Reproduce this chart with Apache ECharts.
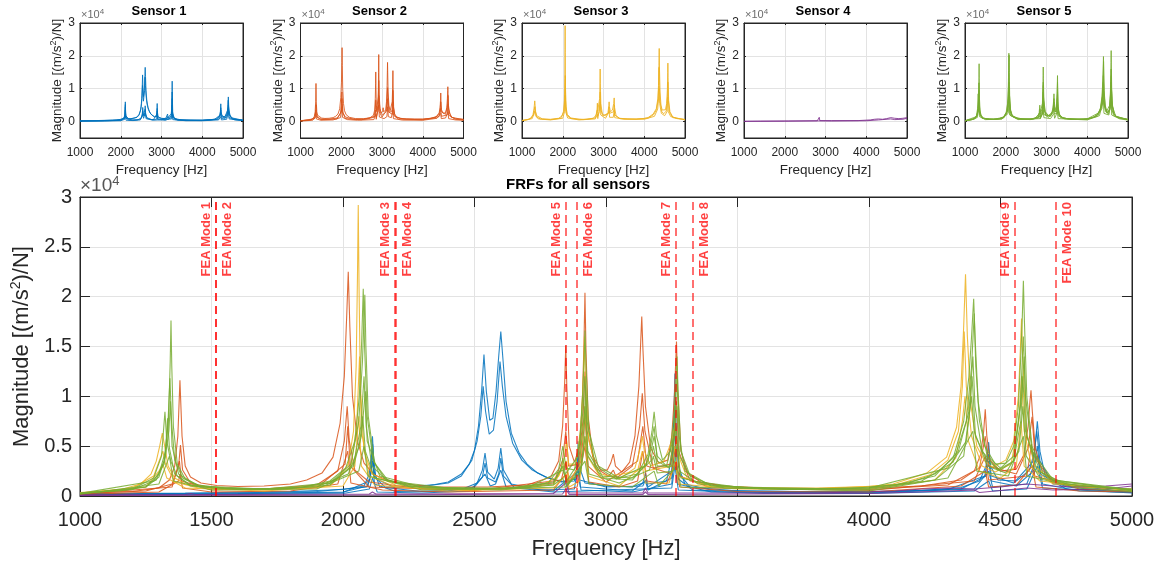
<!DOCTYPE html>
<html><head><meta charset="utf-8">
<script src="https://cdn.jsdelivr.net/npm/echarts@6/dist/echarts.min.js"></script>
<style>html,body{margin:0;padding:0;background:#fff}#c{width:1166px;height:568px}</style>
</head><body><div id="c"></div>
<script>
// ---------------- DATA ----------------
const sensorNames = ['Sensor 1', 'Sensor 2', 'Sensor 3', 'Sensor 4', 'Sensor 5'];
const sensorColors = ['#0072BD', '#D95319', '#EDB120', '#7E2F8E', '#77AC30'];
const mainTitle = 'FRFs for all sensors';
const modeNames = ['FEA Mode 1','FEA Mode 2','FEA Mode 3','FEA Mode 4','FEA Mode 5','FEA Mode 6','FEA Mode 7','FEA Mode 8','FEA Mode 9','FEA Mode 10'];
const modeFreqs = [1517, 1518, 2196, 2201, 2847, 2888, 3266, 3331, 4555, 4711];
const smallYTicks = [0, 10000, 20000, 30000];

// sensor 1 (blue) FRF curves: [frequency Hz, magnitude (m/s^2)/N]
const sensor1Curves = [
 [[1000,250],[1400,300],[1800,450],[2000,650],[2080,1000],[2100,2200],[2108,4200],[2112,6000],[2116,4000],[2125,1800],[2160,900],[2250,900],[2350,1150],[2400,1400],[2450,2200],[2480,3200],[2500,4600],[2515,7000],[2527,10500],[2536,14200],[2545,10500],[2558,7600],[2570,7800],[2582,10500],[2592,14000],[2600,16500],[2608,13800],[2620,9500],[2640,6300],[2670,4300],[2700,3200],[2740,2300],[2780,1800],[2830,1400],[2880,1500],[2890,3000],[2894,5500],[2898,3000],[2920,1300],[3000,1000],[3100,900],[3140,1300],[3150,2300],[3158,1200],[3230,1500],[3252,4000],[3258,8000],[3262,12300],[3266,7500],[3275,3000],[3300,1200],[3400,600],[3700,450],[4000,450],[4200,550],[4350,850],[4420,1500],[4445,3000],[4455,5400],[4462,3000],[4490,1600],[4560,1500],[4610,2600],[4630,4500],[4640,7500],[4650,4500],[4670,2000],[4750,900],[4900,550],[5000,450]],
 [[1000,200],[1500,280],[1900,450],[2090,900],[2105,2000],[2112,4500],[2120,1800],[2200,800],[2300,950],[2400,1300],[2450,2000],[2490,3600],[2510,5500],[2524,8000],[2533,11000],[2542,8500],[2556,6200],[2572,6600],[2586,9500],[2597,13500],[2606,11000],[2620,8000],[2645,5300],[2680,3600],[2720,2600],[2770,1900],[2830,1450],[2888,1700],[2894,4000],[2900,1600],[3000,900],[3140,1000],[3150,1600],[3160,900],[3250,2500],[3262,9000],[3270,2500],[3320,900],[3500,500],[4000,400],[4300,650],[4440,2000],[4455,4200],[4465,2000],[4550,1300],[4625,3500],[4638,6500],[4650,3500],[4700,1200],[5000,400]],
 [[1000,200],[1600,250],[2000,400],[2095,1000],[2108,3000],[2113,5200],[2118,2500],[2140,900],[2300,450],[2450,650],[2510,1300],[2530,2600],[2540,4300],[2550,2400],[2575,1700],[2590,2800],[2600,4800],[2610,2600],[2640,1200],[2750,600],[2880,700],[2894,3200],[2902,900],[3100,500],[3150,1500],[3160,600],[3250,1800],[3262,7000],[3270,1800],[3330,600],[3600,350],[4000,350],[4350,700],[4445,2000],[4455,3500],[4465,1500],[4560,1000],[4625,2500],[4640,5000],[4652,2200],[4750,700],[5000,400]],
 [[1000,150],[1500,200],[2000,350],[2100,1500],[2112,3500],[2120,1200],[2200,450],[2400,500],[2500,900],[2530,1900],[2540,3300],[2550,1800],[2580,1400],[2592,2200],[2600,3800],[2610,2000],[2650,900],[2800,500],[2894,2500],[2905,600],[3100,400],[3250,1200],[3262,5000],[3272,1200],[3400,400],[4000,300],[4400,700],[4455,2500],[4470,900],[4600,1200],[4640,4000],[4660,1200],[4800,500],[5000,350]],
 [[1000,120],[1600,180],[2000,250],[2100,700],[2112,1800],[2130,400],[2300,300],[2480,500],[2540,2200],[2560,1000],[2580,1200],[2600,2600],[2620,900],[2800,400],[3250,800],[3262,3000],[3275,600],[3600,250],[4000,250],[4400,500],[4455,1500],[4470,500],[4600,700],[4640,3000],[4660,800],[5000,300]]
];
// sensor 2 (orange)
const sensor2Curves = [
 [[1000,300],[1200,450],[1300,800],[1340,1600],[1360,3000],[1372,6000],[1380,11600],[1388,6000],[1400,3000],[1420,1900],[1460,1300],[1520,1050],[1600,950],[1700,1000],[1800,1200],[1862,1600],[1920,2300],[1962,3900],[1989,7300],[2005,12000],[2014,18000],[2020,22500],[2026,17000],[2036,10000],[2055,5500],[2080,3300],[2120,2100],[2200,1300],[2350,900],[2550,900],[2700,1100],[2790,1900],[2820,3500],[2835,7000],[2843,11500],[2847,15100],[2851,11000],[2860,5000],[2880,3400],[2900,5000],[2910,9500],[2916,15000],[2920,20400],[2924,14500],[2932,8000],[2950,4000],[2980,2600],[3005,2600],[3018,3300],[3028,4200],[3036,3000],[3060,2400],[3090,3400],[3110,6000],[3125,11000],[3132,15500],[3136,18000],[3140,15000],[3150,9000],[3170,4800],[3200,3300],[3235,3600],[3250,6000],[3260,10000],[3268,15500],[3273,10500],[3285,4500],[3310,2300],[3360,1400],[3450,1000],[3600,800],[3800,750],[4000,800],[4200,1000],[4350,1600],[4400,2500],[4425,4200],[4436,6500],[4442,8700],[4448,6000],[4460,3600],[4500,2500],[4560,2700],[4590,4200],[4605,7000],[4612,9500],[4616,10600],[4621,8500],[4632,4800],[4660,2300],[4720,1300],[4800,900],[4900,800],[5000,700]],
 [[1000,250],[1250,500],[1350,1200],[1375,3000],[1382,5100],[1390,2600],[1420,1300],[1500,800],[1700,700],[1900,1100],[1980,2500],[2005,5500],[2016,9000],[2024,5500],[2045,2600],[2100,1400],[2300,700],[2600,700],[2800,1300],[2835,3600],[2847,6500],[2858,3000],[2895,3200],[2912,7500],[2920,12500],[2928,6500],[2960,2800],[3010,2000],[3028,2600],[3040,1800],[3100,3000],[3128,7000],[3138,10300],[3148,6500],[3180,2800],[3245,3200],[3262,7000],[3268,9500],[3276,4500],[3320,1500],[3500,800],[4000,650],[4300,1100],[4420,2800],[4442,6000],[4455,3000],[4560,2200],[4605,4800],[4620,7950],[4632,3800],[4700,1300],[5000,600]],
 [[1000,200],[1350,900],[1378,3500],[1386,1500],[1500,600],[1900,800],[2008,3200],[2018,7000],[2028,3000],[2100,900],[2500,550],[2830,1600],[2847,3500],[2860,1300],[2905,3500],[2920,8000],[2932,3000],[3000,1400],[3120,3500],[3140,7000],[3155,3000],[3250,2200],[3268,6000],[3280,2000],[3400,800],[4000,550],[4400,1500],[4442,4000],[4455,1600],[4600,2000],[4618,5200],[4630,2000],[4800,700],[5000,500]],
 [[1000,150],[1300,400],[1375,1500],[1380,2200],[1390,800],[1500,400],[1800,500],[1980,1200],[2018,4500],[2030,1300],[2150,600],[2400,400],[2800,600],[2847,2200],[2858,700],[2890,900],[2920,5000],[2935,1400],[3050,900],[3120,1500],[3140,4500],[3155,1500],[3230,1200],[3268,3500],[3280,900],[3500,450],[4000,400],[4350,1000],[4442,2500],[4455,900],[4560,1100],[4620,3000],[4635,900],[4800,500],[5000,400]]
];
// sensor 3 (yellow)
const sensor3Curves = [
 [[1000,350],[1150,600],[1230,1200],[1270,2200],[1290,3500],[1303,5000],[1313,6300],[1322,5000],[1335,3000],[1360,1800],[1400,1200],[1500,800],[1700,700],[1900,1000],[1980,1700],[2020,3200],[2040,6500],[2050,13000],[2055,22000],[2058,29200],[2061,21000],[2066,11000],[2080,4500],[2110,2200],[2200,1100],[2400,700],[2600,700],[2750,1000],[2820,2000],[2842,3800],[2850,5600],[2858,3200],[2885,3200],[2905,7000],[2914,12000],[2918,16000],[2922,11500],[2935,5500],[2970,2300],[3050,1700],[3110,2800],[3130,4800],[3138,6000],[3146,4500],[3170,3000],[3220,3500],[3250,5500],[3262,7200],[3272,4300],[3310,1700],[3400,1000],[3600,800],[3800,800],[4000,950],[4092,1200],[4219,2300],[4295,3900],[4333,6900],[4350,11000],[4360,17000],[4367,22250],[4374,16000],[4388,9000],[4410,5000],[4440,3500],[4470,2900],[4520,3600],[4550,5500],[4568,10000],[4576,15000],[4580,17800],[4585,13500],[4598,6500],[4630,3000],[4700,1400],[4800,900],[5000,650]],
 [[1000,300],[1200,800],[1280,2000],[1305,3800],[1315,4500],[1325,3200],[1360,1400],[1450,800],[1700,600],[1950,1000],[2030,3000],[2052,7000],[2063,14000],[2070,6500],[2100,2000],[2200,900],[2500,600],[2800,1100],[2850,3500],[2860,1600],[2900,3000],[2920,9000],[2930,4000],[2980,1800],[3120,2500],[3138,4500],[3150,2500],[3250,3000],[3262,5000],[3275,2000],[3400,900],[3800,700],[4100,1100],[4230,2100],[4300,3600],[4340,6500],[4355,11000],[4362,16500],[4370,11000],[4390,6000],[4430,3000],[4480,2400],[4540,3200],[4570,7500],[4580,12000],[4590,6500],[4620,2800],[4700,1200],[5000,600]],
 [[1000,250],[1250,900],[1300,2500],[1315,3200],[1330,1800],[1400,800],[1700,500],[2000,1000],[2045,3000],[2060,8000],[2070,3000],[2120,1100],[2400,500],[2800,800],[2850,2200],[2860,900],[2900,1500],[2920,6000],[2932,2000],[3050,1000],[3138,3000],[3150,1300],[3240,1300],[3262,3500],[3275,1200],[3500,700],[4000,700],[4250,1600],[4330,3800],[4355,7500],[4365,10000],[4378,5500],[4420,2500],[4500,1800],[4560,3000],[4578,7500],[4590,3000],[4650,1500],[5000,500]]
];
// sensor 4 (purple)
const sensor4Curves = [
 [[1000,100],[1400,150],[1420,250],[1440,150],[2100,200],[2112,400],[2125,200],[2800,250],[2847,1300],[2860,300],[3140,300],[3150,800],[3160,300],[3800,300],[4100,500],[4200,700],[4300,800],[4400,700],[4500,900],[4600,1200],[4700,1000],[4800,900],[4900,1000],[4950,1100],[5000,1200]],
 [[1000,60],[2000,100],[2835,200],[2847,700],[2860,150],[3140,150],[3150,400],[3160,150],[4000,250],[4300,500],[4400,600],[4420,350],[4600,800],[4700,600],[4900,700],[5000,1000]]
];
// sensor 5 (green)
const sensor5Curves = [
 [[1000,300],[1150,500],[1250,900],[1300,1900],[1325,4000],[1337,8000],[1343,13500],[1346,17600],[1349,13000],[1355,7000],[1370,3200],[1400,1700],[1450,1100],[1550,800],[1700,700],[1850,900],[1950,1500],[2010,2800],[2045,5500],[2062,10000],[2071,15500],[2077,20800],[2082,15000],[2092,8000],[2115,3500],[2160,1700],[2250,1000],[2450,700],[2650,800],[2780,1300],[2820,2700],[2836,5000],[2848,2800],[2880,2600],[2900,5500],[2912,10500],[2917,14000],[2920,16600],[2924,13000],[2935,6500],[2970,3000],[3050,1800],[3120,2200],[3160,4200],[3175,6500],[3183,8450],[3192,6000],[3215,3600],[3245,4500],[3260,8500],[3266,11500],[3270,14000],[3274,10500],[3285,4500],[3320,2000],[3400,1100],[3600,750],[3800,700],[4000,850],[4150,1300],[4250,2200],[4320,3800],[4360,7500],[4380,12000],[4390,16000],[4398,19800],[4404,15500],[4415,9500],[4440,5000],[4480,3200],[4520,3300],[4550,5000],[4568,9000],[4578,14500],[4583,18000],[4587,21600],[4591,17500],[4600,10000],[4620,5000],[4660,2500],[4720,1400],[4800,1000],[4900,800],[5000,700]],
 [[1000,280],[1200,650],[1290,1600],[1320,3500],[1334,7000],[1342,11800],[1348,7500],[1360,3600],[1390,1800],[1450,1000],[1600,700],[1800,750],[1950,1300],[2030,3200],[2060,7500],[2074,13500],[2080,18000],[2083,20200],[2087,15000],[2096,8000],[2120,3300],[2170,1600],[2300,900],[2600,700],[2800,1200],[2830,2800],[2836,3800],[2845,2200],[2895,4000],[2912,8500],[2920,12000],[2928,7500],[2960,3000],[3040,1700],[3150,3000],[3175,5000],[3183,6000],[3195,4000],[3230,3000],[3258,6000],[3270,12000],[3278,6000],[3300,2500],[3400,1000],[3700,650],[4000,750],[4200,1500],[4320,3400],[4370,7500],[4390,13000],[4400,18300],[4406,13000],[4420,7500],[4450,4000],[4500,2800],[4550,4000],[4575,9000],[4587,16000],[4595,10000],[4620,4500],[4700,1600],[5000,650]],
 [[1000,250],[1200,700],[1280,1800],[1310,4000],[1323,8450],[1330,5500],[1345,3500],[1370,2000],[1420,1100],[1500,800],[1750,650],[1950,1100],[2040,3200],[2068,7000],[2080,12000],[2088,7000],[2110,3000],[2170,1500],[2400,800],[2700,800],[2836,2600],[2850,1500],[2900,3500],[2920,9000],[2932,4000],[2980,2000],[3100,1800],[3170,3500],[3180,5000],[3195,3000],[3250,3000],[3270,9000],[3280,4000],[3330,1500],[3500,900],[3900,700],[4100,1100],[4250,2000],[4340,4500],[4380,8500],[4395,14000],[4403,9000],[4430,4500],[4490,2600],[4550,3500],[4577,7500],[4585,12000],[4595,6500],[4640,2500],[4750,1200],[5000,600]],
 [[1000,220],[1250,900],[1300,2200],[1325,4500],[1333,7800],[1340,4800],[1360,2200],[1420,1000],[1600,650],[1900,900],[2020,2200],[2062,5000],[2075,8000],[2085,4500],[2120,1800],[2300,800],[2600,600],[2800,1100],[2836,1800],[2845,900],[2905,2500],[2920,6000],[2935,2200],[3050,1300],[3165,2600],[3180,4000],[3195,2300],[3255,2500],[3270,5000],[3285,1800],[3450,800],[4000,650],[4250,1600],[4360,4000],[4390,10000],[4400,6500],[4450,3000],[4520,2300],[4570,4500],[4585,9000],[4598,4000],[4650,1800],[5000,500]],
 [[1000,180],[1300,1200],[1340,4000],[1355,1500],[1500,600],[1900,700],[2060,2500],[2080,5000],[2095,2000],[2300,600],[2850,900],[2920,3500],[2935,1200],[3100,900],[3183,2500],[3200,1000],[3270,3000],[3285,900],[4000,500],[4300,1800],[4395,6500],[4410,2500],[4530,2000],[4587,6000],[4600,2000],[4800,800],[5000,450]],
 [[1000,260],[1280,1500],[1320,3200],[1338,6500],[1344,9500],[1350,5000],[1375,2200],[1450,1000],[1700,700],[1950,1300],[2040,3000],[2070,6000],[2085,10500],[2092,5500],[2140,2000],[2300,900],[2600,700],[2800,1400],[2836,3000],[2850,1200],[2900,2200],[2915,5000],[2922,11000],[2930,4500],[2990,1800],[3100,1600],[3160,3500],[3183,7000],[3195,3500],[3240,2800],[3266,7000],[3280,2500],[3350,1200],[3600,700],[4000,800],[4300,2800],[4370,5500],[4385,9000],[4392,12000],[4405,6000],[4450,3500],[4500,2600],[4550,3500],[4580,10000],[4590,14000],[4600,6000],[4650,2500],[4700,1500],[5000,600]]
];
const allSensorCurves = [sensor1Curves, sensor2Curves, sensor3Curves, sensor4Curves, sensor5Curves];

// ---------------- LAYOUT ----------------
const FONT = '"Liberation Sans", Arial, Helvetica, sans-serif';
const TXT = '#262626';
const GRIDC = '#e3e3e3';
const smallLefts = [80, 300.5, 522, 744, 965];
const smallTop = 23, smallW = 163, smallH = 115;
const mainBox = {left: 80, top: 197, width: 1052, height: 299};
const plain = v => String(v);

const grids = [], xAxes = [], yAxes = [], series = [], graphics = [];
const ylabRichSmall = {
  a: {fontSize: 13.5, fontFamily: FONT, color: TXT, lineHeight: 17},
  s: {fontSize: 9, fontFamily: FONT, color: TXT, verticalAlign: 'top'}
};
const ylabRichMain = {
  a: {fontSize: 22, fontFamily: FONT, color: TXT, lineHeight: 27},
  s: {fontSize: 14, fontFamily: FONT, color: TXT, verticalAlign: 'top'}
};
const ylabText = '{a|Magnitude [(m/s}{s|2}{a|)/N]}';

for (let i = 0; i < 5; i++) {
  grids.push({left: smallLefts[i], top: smallTop, width: smallW, height: smallH, show: true, borderColor: TXT, borderWidth: 1, containLabel: false});
  xAxes.push({gridIndex: i, type: 'value', min: 1000, max: 5000, interval: 1000, position: 'bottom',
    axisLine: {show: true, onZero: false, lineStyle: {color: TXT}},
    axisTick: {inside: true, length: 2, lineStyle: {color: TXT}},
    axisLabel: {formatter: plain, fontSize: 12, color: TXT, fontFamily: FONT, margin: 9},
    splitLine: {show: true, lineStyle: {color: GRIDC}},
    name: 'Frequency [Hz]', nameLocation: 'middle', nameGap: 25,
    nameTextStyle: {fontSize: 13.5, color: TXT, fontFamily: FONT}});
  xAxes.push({gridIndex: i, type: 'value', min: 1000, max: 5000, interval: 1000, position: 'top',
    axisLine: {show: true, onZero: false, lineStyle: {color: TXT}},
    axisTick: {inside: true, length: 2, lineStyle: {color: TXT}}, axisLabel: {show: false}, splitLine: {show: false}});
  yAxes.push({gridIndex: i, type: 'value', min: -5000, max: 30000, position: 'left',
    axisLine: {show: true, onZero: false, lineStyle: {color: TXT}},
    axisTick: {inside: true, length: 2, customValues: smallYTicks, lineStyle: {color: TXT}},
    axisLabel: {customValues: smallYTicks, formatter: v => String(v / 10000), fontSize: 12, color: TXT, fontFamily: FONT, margin: 5},
    splitLine: {show: true, lineStyle: {color: GRIDC}},
    name: ylabText, nameLocation: 'middle', nameGap: 14, nameTextStyle: {rich: ylabRichSmall}});
  yAxes.push({gridIndex: i, type: 'value', min: -5000, max: 30000, position: 'right',
    axisLine: {show: true, onZero: false, lineStyle: {color: TXT}},
    axisTick: {inside: true, length: 2, customValues: smallYTicks, lineStyle: {color: TXT}},
    axisLabel: {show: false}, splitLine: {show: false}});
  graphics.push({type: 'text', left: smallLefts[i] + smallW / 2 - 30, top: 5,
    style: {text: sensorNames[i], font: 'bold 13px ' + FONT, fill: '#000', width: 60, align: 'center'}});
  graphics.push({type: 'text', x: smallLefts[i] + 1, y: 8,
    style: {text: '{a|×10}{s|4}', rich: {a: {fontSize: 11, fontFamily: FONT, fill: '#6b6b6b', lineHeight: 13}, s: {fontSize: 8, fontFamily: FONT, fill: '#6b6b6b', verticalAlign: 'top'}}}});
}
// main
grids.push({left: mainBox.left, top: mainBox.top, width: mainBox.width, height: mainBox.height, show: true, borderColor: TXT, borderWidth: 1});
xAxes.push({gridIndex: 5, type: 'value', min: 1000, max: 5000, interval: 500, position: 'bottom',
  axisLine: {show: true, onZero: false, lineStyle: {color: TXT}},
  axisTick: {inside: true, length: 10, lineStyle: {color: TXT}},
  axisLabel: {formatter: plain, fontSize: 20, color: TXT, fontFamily: FONT, margin: 14},
  splitLine: {show: true, lineStyle: {color: GRIDC}},
  name: 'Frequency [Hz]', nameLocation: 'middle', nameGap: 42,
  nameTextStyle: {fontSize: 22, color: TXT, fontFamily: FONT}});
xAxes.push({gridIndex: 5, type: 'value', min: 1000, max: 5000, interval: 500, position: 'top',
  axisLine: {show: true, onZero: false, lineStyle: {color: TXT}},
  axisTick: {inside: true, length: 10, lineStyle: {color: TXT}}, axisLabel: {show: false}, splitLine: {show: false}});
yAxes.push({gridIndex: 5, type: 'value', min: 0, max: 30000, interval: 5000, position: 'left',
  axisLine: {show: true, onZero: false, lineStyle: {color: TXT}},
  axisTick: {inside: true, length: 10, lineStyle: {color: TXT}},
  axisLabel: {formatter: v => String(v / 10000), fontSize: 20, color: TXT, fontFamily: FONT, margin: 8},
  splitLine: {show: true, lineStyle: {color: GRIDC}},
  name: ylabText, nameLocation: 'middle', nameGap: 42, nameTextStyle: {rich: ylabRichMain}});
yAxes.push({gridIndex: 5, type: 'value', min: 0, max: 30000, interval: 5000, position: 'right',
  axisLine: {show: true, onZero: false, lineStyle: {color: TXT}},
  axisTick: {inside: true, length: 10, lineStyle: {color: TXT}}, axisLabel: {show: false}, splitLine: {show: false}});

graphics.push({type: 'text', left: mainBox.left + mainBox.width / 2 - 100, top: 177,
  style: {text: mainTitle, font: 'bold 15px ' + FONT, fill: '#000', width: 200, align: 'center'}});
graphics.push({type: 'text', x: mainBox.left, y: 175,
  style: {text: '{a|×10}{s|4}', rich: {a: {fontSize: 19, fontFamily: FONT, fill: '#555', lineHeight: 22}, s: {fontSize: 13, fontFamily: FONT, fill: '#555', verticalAlign: 'top'}}}});

// small plot series
allSensorCurves.forEach((curves, s) => {
  curves.forEach(c => {
    series.push({type: 'line', xAxisIndex: 2 * s, yAxisIndex: 2 * s, data: c, showSymbol: false, symbol: 'none',
      lineStyle: {color: sensorColors[s], width: 1, opacity: 0.85}, silent: true, animation: false});
  });
});
// main plot series (sensor order, green on top)
allSensorCurves.forEach((curves, s) => {
  curves.forEach(c => {
    series.push({type: 'line', xAxisIndex: 10, yAxisIndex: 10, data: c, showSymbol: false, symbol: 'none',
      lineStyle: {color: sensorColors[s], width: 1.1, opacity: 0.85}, silent: true, animation: false});
  });
});
// FEA mode marker lines
series.push({type: 'line', xAxisIndex: 10, yAxisIndex: 10, data: [], silent: true, z: 10, animation: false,
  markLine: {symbol: 'none', silent: true, animation: false, precision: 1,
    lineStyle: {color: '#ff0000', type: [8, 5], width: 1.5, opacity: 0.75},
    label: {show: true, formatter: '{b}', color: '#ff0000', fontSize: 13, fontWeight: 'bold', fontFamily: FONT},
    data: modeNames.map((n, i) => ({name: n, xAxis: modeFreqs[i],
      label: {position: i % 2 === 0 ? 'insideEndTop' : 'insideEndBottom', distance: i % 2 === 0 ? [5, 3] : [5, 5]}}))
  }});

const chart = echarts.init(document.getElementById('c'), null, {renderer: 'canvas'});
chart.setOption({backgroundColor: '#fff', animation: false, grid: grids, xAxis: xAxes, yAxis: yAxes, series: series, graphic: graphics});
</script></body></html>
